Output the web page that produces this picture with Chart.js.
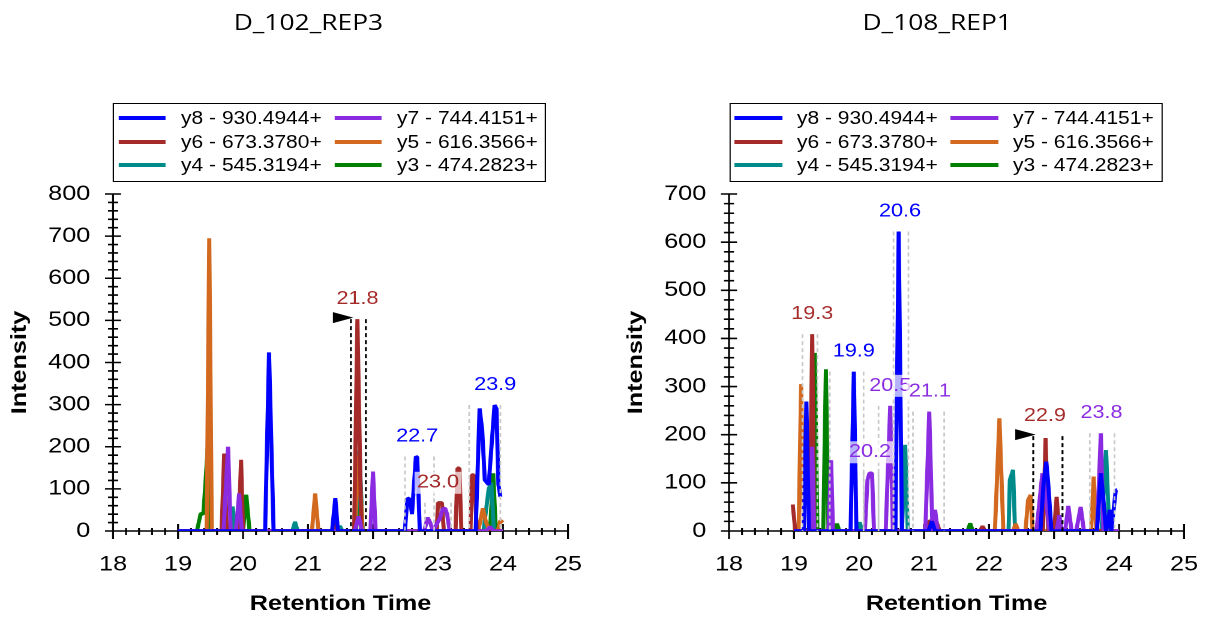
<!DOCTYPE html>
<html>
<head>
<meta charset="utf-8">
<script src="https://cdn.jsdelivr.net/npm/chart.js@4.4.1/dist/chart.umd.min.js"></script>
<style>
    html, body { margin: 0; padding: 0; background: #fff; overflow: hidden; }
    /* the reference text is wide, so the whole page is drawn narrow and scaled */
    #page { position: absolute; left: 0; top: 0; width: 1006px; height: 617px; transform: scaleX(1.2); transform-origin: 0 0; }
    .panel { position: absolute; top: 0; width: 503px; height: 617px; }
    .panel canvas { position: absolute; left: 0; top: 0; }
    .title { position: absolute; top: 5.5px; font: 22px "Open Sans"; line-height: 30px; color: #000; white-space: nowrap; transform: translateX(-50%); }
    .legend { position: absolute; top: 103px; width: 361px; height: 79px; border: 1.5px solid #000; box-sizing: border-box; background: #fff; }
    .legend .sw { position: absolute; width: 39.5px; height: 4px; }
    .legend .tx { position: absolute; font: 17.5px "Liberation Sans"; line-height: 20px; color: #000; white-space: nowrap; }
</style>
</head>
<body>
<div id="page">
    <div class="panel" style="left:0">
        <div class="title" style="left:257px">D_102_REP3</div>
        <div class="legend" id="leg1" style="left:94.2px"></div>
        <canvas id="c1" width="503" height="617"></canvas>
    </div>
    <div class="panel" style="left:503px">
        <div class="title" style="left:278px">D_108_REP1</div>
        <div class="legend" id="leg2" style="left:104.5px"></div>
        <canvas id="c2" width="503" height="617"></canvas>
    </div>
</div>
<script>
// transitions, in legend order
const IONS = ["y8 - 930.4944+", "y7 - 744.4151+", "y6 - 673.3780+", "y5 - 616.3566+", "y4 - 545.3194+", "y3 - 474.2823+"];
const COLORS = ["#0000FF", "#8A2BE2", "#A52A2A", "#D2691E", "#008B8B", "#008000"];

const X_TICKS = [18, 19, 20, 21, 22, 23, 24, 25];

// D_102_REP3 : [retention time, intensity]
const R3_Y8 = [[19.0,0],[20.34,0],[20.40,424],[20.47,0],[21.37,0],[21.42,78],[21.46,0],[22.49,0],[22.53,78],[22.57,75],[22.60,40],[22.66,177],[22.68,175],[22.72,0],[23.58,0],[23.64,291],[23.68,240],[23.72,121],[23.78,110],[23.87,299],[23.90,290],[23.93,110],[23.96,81]];
const R3_Y7 = [[19.0,0],[19.70,0],[19.77,200],[19.81,0],[19.89,0],[19.94,89],[19.98,0],[21.72,0],[21.78,35],[21.83,0],[21.96,0],[22.00,141],[22.04,0],[22.79,0],[22.84,32],[22.88,20],[22.92,0],[23.03,30],[23.07,52],[23.11,54],[23.14,40],[23.18,0],[23.74,0],[23.80,10],[23.86,0],[24.0,0]];
const R3_Y6 = [[19.0,0],[19.67,0],[19.71,184],[19.75,0],[19.93,0],[19.97,169],[20.00,0],[21.37,0],[21.40,20],[21.44,0],[21.71,0],[21.76,503],[21.82,0],[22.98,0],[23.00,67],[23.06,67],[23.09,0],[23.27,0],[23.30,149],[23.33,149],[23.36,0],[23.50,0],[23.52,133],[23.55,133],[23.60,0],[24.0,0]];
const R3_Y5 = [[19.0,0],[19.44,0],[19.48,695],[19.52,0],[21.06,0],[21.11,89],[21.16,0],[21.72,0],[21.78,180],[21.84,0],[23.62,0],[23.69,54],[23.74,20],[23.80,0],[23.92,0],[23.96,25],[24.0,20]];
const R3_Y4 = [[19.0,0],[19.81,0],[19.84,58],[19.88,0],[20.76,0],[20.80,22],[20.84,0],[21.46,0],[21.49,12],[21.53,0],[21.73,0],[21.79,192],[21.84,0],[23.70,0],[23.78,100],[23.82,115],[23.86,0],[24.0,0]];
const R3_Y3 = [[19.0,0],[19.29,0],[19.35,42],[19.39,40],[19.46,204],[19.49,0],[20.00,0],[20.05,86],[20.10,0],[21.74,0],[21.79,170],[21.84,0],[23.80,0],[23.85,137],[23.89,0],[24.0,0]];

// D_108_REP1
const R1_Y8 = [[19.0,0],[19.15,0],[19.19,269],[19.23,0],[19.87,0],[19.92,331],[19.96,0],[20.56,0],[20.61,622],[20.66,0],[21.07,0],[21.12,20],[21.17,0],[22.79,0],[22.84,100],[22.88,144],[22.91,100],[22.96,0],[23.66,0],[23.72,120],[23.76,64],[23.80,0],[23.86,44],[23.88,0],[23.95,85],[23.97,85]];
const R1_Y7 = [[19.0,0],[19.24,0],[19.28,175],[19.31,0],[19.53,0],[19.57,147],[19.60,0],[20.09,0],[20.13,106],[20.16,120],[20.20,120],[20.23,0],[20.41,0],[20.48,260],[20.52,0],[21.02,0],[21.08,248],[21.13,0],[21.17,44],[21.21,0],[22.73,0],[22.82,120],[22.87,71],[22.93,0],[23.04,0],[23.08,33],[23.12,0],[23.17,0],[23.22,52],[23.27,0],[23.34,0],[23.41,50],[23.46,0],[23.66,0],[23.72,203],[23.76,0],[24.0,0]];
const R1_Y6 = [[18.98,55],[19.02,0],[19.24,0],[19.28,409],[19.31,0],[21.02,0],[21.05,15],[21.10,22],[21.14,10],[21.19,20],[21.24,0],[21.86,0],[21.90,10],[21.94,0],[22.83,0],[22.87,193],[22.91,0],[23.00,0],[23.04,71],[23.08,0],[24.0,0]];
const R1_Y5 = [[19.0,0],[19.07,0],[19.11,305],[19.15,0],[22.09,0],[22.16,234],[22.22,0],[22.37,0],[22.41,15],[22.45,0],[22.56,0],[22.60,64],[22.64,75],[22.67,0],[23.57,0],[23.61,113],[23.65,0],[24.0,0]];
const R1_Y4 = [[19.0,0],[19.97,0],[20.01,18],[20.05,0],[20.66,0],[20.71,179],[20.75,0],[22.30,0],[22.32,106],[22.37,127],[22.40,0],[23.73,0],[23.80,168],[23.85,0],[24.0,0]];
const R1_Y3 = [[19.0,0],[19.28,0],[19.32,370],[19.36,0],[19.45,0],[19.49,336],[19.53,0],[19.62,0],[19.66,15],[19.70,0],[21.67,0],[21.71,16],[21.75,0],[24.0,0]];

// picked peaks: label, apex time, bounds, height, transition index
const R3_PEAK_LABELS = ["21.8", "22.7", "23.0", "23.9"];
const R3_PEAK_APEX   = [21.76, 22.68, 23.00, 23.88];
const R3_PEAK_START  = [21.66, 22.49, 22.80, 23.48];
const R3_PEAK_END    = [21.89, 22.94, 23.20, 23.96];
const R3_PEAK_HEIGHT = [503, 177, 67, 299];
const R3_PEAK_ION    = [2, 0, 2, 0];
const R3_SELECTED    = 0;

const R1_PEAK_LABELS = ["19.3", "19.9", "20.2", "20.5", "20.6", "21.1", "22.9", "23.8"];
const R1_PEAK_APEX   = [19.28, 19.92, 20.17, 20.48, 20.63, 21.09, 22.86, 23.73];
const R1_PEAK_START  = [19.13, 19.55, 20.07, 20.30, 20.53, 20.83, 22.68, 23.55];
const R1_PEAK_END    = [19.36, 20.07, 20.30, 20.53, 20.76, 21.31, 23.13, 23.93];
const R1_PEAK_HEIGHT = [409, 331, 122, 260, 622, 248, 197, 203];
const R1_PEAK_ION    = [2, 0, 1, 1, 0, 1, 2, 1];
const R1_SELECTED    = 6;

const STRETCH = 1.2;    // #page scaleX

/**
 * 범례 박스 (2열 3행)
 */
function buildLegend(el) {
    IONS.forEach((name, i) => {
        const col = i % 2, row = Math.floor(i / 2);
        const cy = 13.8 + row * 23.7;
        const sw = document.createElement("div");
        sw.className = "sw";
        sw.style.left = (3.7 + col * 179.8) + "px";
        sw.style.top = (cy - 2) + "px";
        sw.style.background = COLORS[i];
        el.appendChild(sw);
        const tx = document.createElement("div");
        tx.className = "tx";
        tx.style.left = (55.7 + col * 180) + "px";
        tx.style.top = (cy - 10) + "px";
        tx.textContent = name;
        el.appendChild(tx);
    });
}

// axis lines with major and minor ticks crossing the axis, plus the y title
const axesPlugin = {
    id: "msAxes",
    beforeDatasetsDraw(chart) {
        const { ctx, chartArea: a, scales: { x, y } } = chart;
        const yMajor = 100, yMinor = 20, xMajor = 1, xMinor = 0.2;
        ctx.save();
        ctx.strokeStyle = "#000";
        ctx.lineWidth = 1.6;
        ctx.beginPath();
        ctx.moveTo(a.left, a.top);
        ctx.lineTo(a.left, a.bottom);
        ctx.moveTo(a.left - 6, a.bottom);
        ctx.lineTo(a.right, a.bottom);
        for (let k = 0; k * yMinor <= y.max + 1e-6; k++) {
            const p = y.getPixelForValue(k * yMinor);
            const len = (k % (yMajor / yMinor) === 0) ? 6.7 : 4.2;
            ctx.moveTo(a.left - len, p);
            ctx.lineTo(a.left + len, p);
        }
        for (let k = 0; x.min + k * xMinor <= x.max + 1e-6; k++) {
            const p = x.getPixelForValue(x.min + k * xMinor);
            const major = k % Math.round(xMajor / xMinor) === 0;
            ctx.moveTo(p, a.bottom - (major ? 7 : 3));
            ctx.lineTo(p, a.bottom + (major ? 8 : 4));
        }
        ctx.stroke();

        // rotated title: keep glyphs wide along the text direction
        ctx.translate(a.left - 77.5, (a.top + a.bottom) / 2);
        ctx.rotate(-Math.PI / 2);
        ctx.scale(STRETCH, 1 / STRETCH);
        ctx.font = "bold 21px 'Liberation Sans'";
        ctx.fillStyle = "#000";
        ctx.textAlign = "center";
        ctx.textBaseline = "middle";
        ctx.fillText("Intensity", 0, 0);
        ctx.restore();
    }
};

/**
 * 피크 경계선 + 라벨
 */
function peakPlugin(labels, apex, start, end, height, ion, selected) {
    return {
        id: "peaks",
        afterDatasetsDraw(chart) {
            const { ctx, scales: { x, y } } = chart;
            const y0 = y.getPixelForValue(0);
            ctx.save();
            labels.forEach((lab, i) => {
                const top = y.getPixelForValue(height[i]);
                const sel = i === selected;
                ctx.setLineDash([4, 3]);
                ctx.strokeStyle = sel ? "#000" : "#c8c8c8";
                ctx.lineWidth = sel ? 1.6 : 1.4;
                ctx.beginPath();
                [start[i], end[i]].forEach(t => {
                    const px = x.getPixelForValue(t);
                    ctx.moveTo(px, top);
                    ctx.lineTo(px, y0);
                });
                ctx.stroke();
                ctx.setLineDash([]);
                if (sel) {
                    const lx = x.getPixelForValue(start[i]);
                    ctx.fillStyle = "#000";
                    ctx.beginPath();
                    ctx.moveTo(lx - 15, top - 7);
                    ctx.lineTo(lx + 2, top - 1.5);
                    ctx.lineTo(lx - 15, top + 4);
                    ctx.closePath();
                    ctx.fill();
                }
            });
            ctx.font = "18px 'Liberation Sans'";
            ctx.textAlign = "center";
            ctx.textBaseline = "middle";
            labels.forEach((lab, i) => {
                const cx = x.getPixelForValue(apex[i]);
                const cy = y.getPixelForValue(height[i]) - 20;
                const w = ctx.measureText(lab).width;
                ctx.fillStyle = "rgba(255,255,255,0.7)";
                ctx.fillRect(cx - w / 2 - 2, cy - 11, w + 4, 22);
                ctx.fillStyle = COLORS[ion[i]];
                ctx.fillText(lab, cx, cy);
            });
            ctx.restore();
        }
    };
}

/**
 * 크로마토그램 생성
 */
function createChart(canvas, series, yMax, padLeft, padRight, plugin) {
    const tickFont = { family: "Liberation Sans", size: 21 };
    // tall line box pushes the x labels down without widening the side padding
    const xTickFont = { family: "Liberation Sans", size: 21, lineHeight: 3.0 };
    const titleFont = { family: "Liberation Sans", size: 21, weight: "bold" };
    return new Chart(canvas, {
        type: "line",
        data: {
            datasets: series.map((pts, i) => ({
                label: IONS[i],
                data: pts.map(p => ({ x: p[0], y: p[1] })),
                borderColor: COLORS[i],
                backgroundColor: COLORS[i],
                borderWidth: 3.4,
                borderJoinStyle: "bevel",
                pointRadius: 0,
                tension: 0,
            }))
        },
        options: {
            responsive: false,
            animation: false,
            devicePixelRatio: 2,
            layout: { padding: { left: padLeft, right: padRight, top: 194, bottom: 0 } },
            plugins: { legend: { display: false }, tooltip: { enabled: false } },
            scales: {
                x: {
                    type: "linear", min: X_TICKS[0], max: X_TICKS[X_TICKS.length - 1],
                    grid: { display: false, drawTicks: false }, border: { display: false },
                    ticks: { stepSize: 1, padding: 2, font: xTickFont, color: "#000", maxRotation: 0, autoSkip: false },
                    title: { display: true, text: "Retention Time", font: titleFont, color: "#000", padding: 0 },
                    afterFit: s => { s.height = 86; }
                },
                y: {
                    min: 0, max: yMax,
                    grid: { display: false, drawTicks: false }, border: { display: false },
                    ticks: { stepSize: 100, padding: 19, font: tickFont, color: "#000", autoSkip: false },
                    afterFit: s => { s.width = 94.2; }
                }
            }
        },
        plugins: [axesPlugin, plugin]
    });
}

buildLegend(document.getElementById("leg1"));
buildLegend(document.getElementById("leg2"));

createChart(document.getElementById("c1"),
    [R3_Y8, R3_Y7, R3_Y6, R3_Y5, R3_Y4, R3_Y3], 800, 0, 29.7,
    peakPlugin(R3_PEAK_LABELS, R3_PEAK_APEX, R3_PEAK_START, R3_PEAK_END, R3_PEAK_HEIGHT, R3_PEAK_ION, R3_SELECTED));

createChart(document.getElementById("c2"),
    [R1_Y8, R1_Y7, R1_Y6, R1_Y5, R1_Y4, R1_Y3], 700, 10.3, 19.3,
    peakPlugin(R1_PEAK_LABELS, R1_PEAK_APEX, R1_PEAK_START, R1_PEAK_END, R1_PEAK_HEIGHT, R1_PEAK_ION, R1_SELECTED));
</script>
</body>
</html>
